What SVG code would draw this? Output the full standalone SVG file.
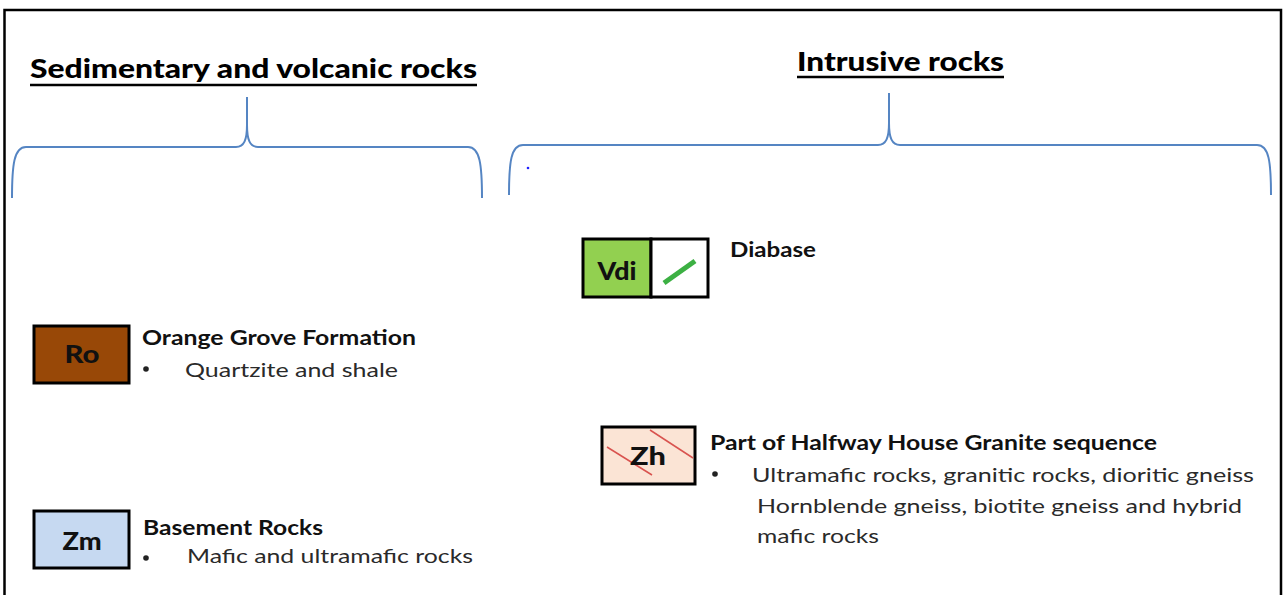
<svg xmlns="http://www.w3.org/2000/svg" width="1288" height="595" viewBox="0 0 1288 595">
<style>
.frame{fill:none;stroke:#000;stroke-width:2.5}
.brace{fill:none;stroke:#5585c3;stroke-width:2}
.title{font-family:Lato,"Open Sans",sans-serif;font-weight:900;font-size:26px;fill:#000}
.ul{stroke:#000;stroke-width:2.5}
.box{stroke:#000;stroke-width:3}
.code{font-family:Lato,"Open Sans",sans-serif;font-weight:900;font-size:24px;fill:#111;text-anchor:middle}
.head{font-family:Lato,"Open Sans",sans-serif;font-weight:bold;font-size:20px;fill:#111}
.body{font-family:Lato,"Open Sans",sans-serif;font-size:20px;fill:#2a2a2a}
</style>
<rect width="1288" height="595" fill="#fff"/>
<path class="frame" d="M4.5,595 L4.5,10 L1281,10 L1281,595"/>

<g id="title-sed">
<text class="title" x="30" y="78" textLength="447" lengthAdjust="spacingAndGlyphs">Sedimentary and volcanic rocks</text>
<line class="ul" x1="30" y1="85" x2="477" y2="85"/>
</g>
<g id="title-intr">
<text class="title" x="797" y="71" textLength="207" lengthAdjust="spacingAndGlyphs">Intrusive rocks</text>
<line class="ul" x1="797" y1="77" x2="1004" y2="77"/>
</g>

<g id="connectors">
<path class="brace" d="M12,198 C12,165 14,147 26,147 L236,147 C244,147 247,140 247,125 L247,97 M247,125 C247,140 250,147 258,147 L468,147 C480,147 482,165 482,198"/>
<path class="brace" d="M509,195 C509,162 511,145 523,145 L878,145 C886,145 889,138 889,123 L889,93 M889,123 C889,138 892,145 900,145 L1257,145 C1269,145 1271,162 1271,195"/>
<circle cx="528" cy="168" r="1.3" fill="#2020ff"/>
</g>

<g id="node-vdi">
<rect class="box" x="583" y="239" width="68" height="58" fill="#92d050"/>
<rect class="box" x="651" y="239" width="57" height="58" fill="#fff"/>
<line x1="664" y1="283" x2="695" y2="261" stroke="#3cb043" stroke-width="5"/>
<text class="code" x="617" y="280" textLength="39" lengthAdjust="spacingAndGlyphs">Vdi</text>
<text class="head" x="730" y="257" textLength="86" lengthAdjust="spacingAndGlyphs">Diabase</text>
</g>

<g id="node-ro">
<rect class="box" x="34" y="326" width="95" height="57" fill="#984807"/>
<text class="code" x="82" y="363" textLength="35" lengthAdjust="spacingAndGlyphs">Ro</text>
<text class="head" x="142" y="345" textLength="274" lengthAdjust="spacingAndGlyphs">Orange Grove Formation</text>
<circle cx="146" cy="369" r="2.8" fill="#222"/>
<text class="body" x="185" y="377" textLength="213" lengthAdjust="spacingAndGlyphs">Quartzite and shale</text>
</g>

<g id="node-zh">
<rect class="box" x="602" y="427" width="93" height="57" fill="#fbe4d5"/>
<line x1="607" y1="447" x2="652" y2="475" stroke="#d9534f" stroke-width="1.5"/>
<line x1="650" y1="430" x2="693" y2="458" stroke="#d9534f" stroke-width="1.5"/>
<text class="code" x="648" y="465" textLength="36" lengthAdjust="spacingAndGlyphs">Zh</text>
<text class="head" x="710" y="450" textLength="447" lengthAdjust="spacingAndGlyphs">Part of Halfway House Granite sequence</text>
<circle cx="715" cy="474" r="2.8" fill="#222"/>
<text class="body" x="752" y="482" textLength="502" lengthAdjust="spacingAndGlyphs">Ultramafic rocks, granitic rocks, dioritic gneiss</text>
<text class="body" x="757" y="513" textLength="485" lengthAdjust="spacingAndGlyphs">Hornblende gneiss, biotite gneiss and hybrid</text>
<text class="body" x="757" y="543" textLength="122" lengthAdjust="spacingAndGlyphs">mafic rocks</text>
</g>

<g id="node-zm">
<rect class="box" x="34" y="511" width="95" height="57" fill="#c6d9f1"/>
<text class="code" x="82" y="550" textLength="39" lengthAdjust="spacingAndGlyphs">Zm</text>
<text class="head" x="143" y="535" textLength="180" lengthAdjust="spacingAndGlyphs">Basement Rocks</text>
<circle cx="146" cy="558" r="2.8" fill="#222"/>
<text class="body" x="187" y="563" textLength="286" lengthAdjust="spacingAndGlyphs">Mafic and ultramafic rocks</text>
</g>
</svg>
